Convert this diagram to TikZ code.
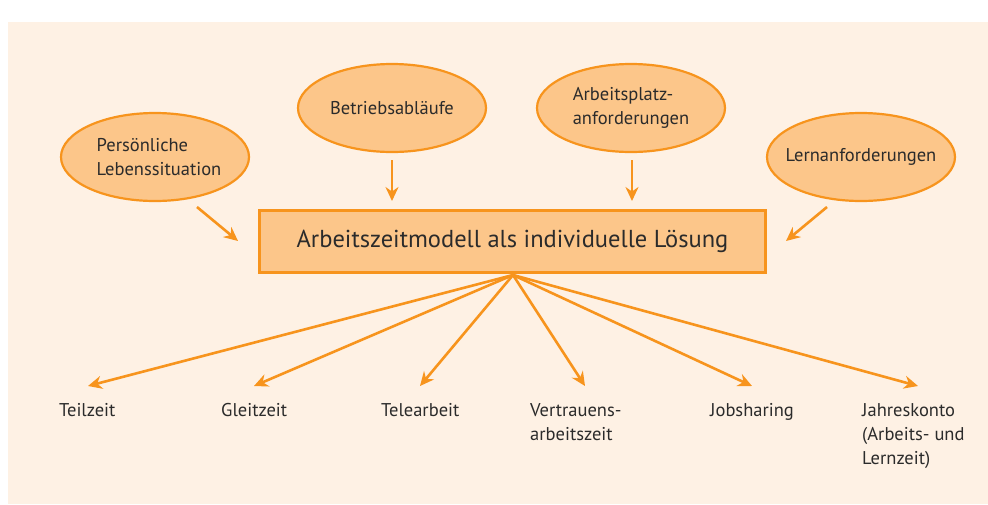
\documentclass[tikz,border=0pt]{standalone}
\usepackage{fontspec}
\setmainfont{PT Sans}
\usetikzlibrary{shapes.geometric,arrows.meta}
\definecolor{bgc}{HTML}{FEF1E4}
\definecolor{fillc}{HTML}{FCC68A}
\definecolor{orc}{HTML}{F7941D}
\definecolor{txc}{HTML}{2B2B2B}
\newcommand{\lines}[1]{\begin{tabular}[t]{@{}l@{}}#1\end{tabular}}
\tikzset{
  bubble/.style={ellipse, draw=orc, fill=fillc, line width=2.2pt, minimum width=188pt, minimum height=88pt, inner sep=0pt},
  btext/.style={inner sep=0pt, align=left, text=txc, font=\fontsize{18.5}{24}\selectfont},
  mainbox/.style={rectangle, draw=orc, fill=fillc, line width=2.6pt, minimum width=506pt, minimum height=62pt, text=txc, font=\fontsize{24.5}{28}\selectfont},
  lbl/.style={anchor=base west, inner sep=0pt, text=txc, font=\fontsize{18.5}{24}\selectfont},
  arr/.style={draw=orc, line width=2.6pt, -{Stealth[length=14pt,width=13pt]}}
}
\begin{document}
\begin{tikzpicture}[x=1pt,y=-1pt]
\useasboundingbox (0,0) rectangle (988,504);
\fill[white] (0,0) rectangle (988,504);
\fill[bgc] (8,22) rectangle (988,504);
\node[bubble] (pers) at (155,157) {};
\node[bubble] (betr) at (392,108) {};
\node[bubble] (arbp) at (631,108) {};
\node[bubble] (lern) at (861,157) {};
\node[btext] (perst) at ([xshift=4pt]pers) {Persönliche\\Lebenssituation};
\node[btext] (betrt) at (betr) {Betriebsabläufe};
\node[btext] (arbpt) at (arbp) {Arbeitsplatz-\\anforderungen};
\node[btext] (lernt) at (lern) {Lernanforderungen};
\node[mainbox] (box) at (512.5,241.5) {Arbeitszeitmodell als individuelle Lösung};
\coordinate (s1) at (197,207); \coordinate (e1) at (238,241);
\coordinate (s2) at (392,160); \coordinate (e2) at (392,201);
\coordinate (s3) at (632,160); \coordinate (e3) at (632,201);
\coordinate (s4) at (827,207); \coordinate (e4) at (786,241);
\draw[arr] (s1) -- (e1);
\draw[arr] (s2) -- (e2);
\draw[arr] (s3) -- (e3);
\draw[arr] (s4) -- (e4);
\node[lbl] (teil) at (59,416) {Teilzeit};
\node[lbl] (glei) at (221,416) {Gleitzeit};
\node[lbl] (tele) at (381,416) {Telearbeit};
\node[lbl] (vert) at (530,416) {\lines{Vertrauens-\\arbeitszeit}};
\node[lbl] (jobs) at (710,416) {Jobsharing};
\node[lbl] (jahr) at (862,416) {\lines{Jahreskonto\\(Arbeits- und\\Lernzeit)}};
\coordinate (o) at (513,275);
\coordinate (t1) at (88,386);
\coordinate (t2) at (254,386);
\coordinate (t3) at (420,386);
\coordinate (t4) at (585,386);
\coordinate (t5) at (752,386);
\coordinate (t6) at (918,386);
\foreach \t in {t1,t2,t3,t4,t5,t6} \draw[arr] (o) -- (\t);
\end{tikzpicture}
\end{document}
